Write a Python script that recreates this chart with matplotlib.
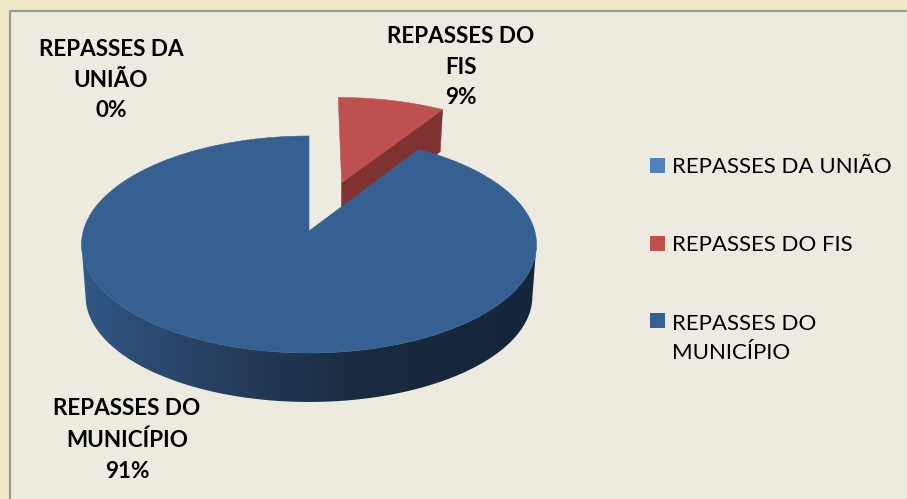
import numpy as np
import matplotlib
matplotlib.use("Agg")
import matplotlib.pyplot as plt
from matplotlib.patches import Polygon, Patch, Rectangle
from matplotlib.colors import LinearSegmentedColormap
from matplotlib.legend_handler import HandlerPatch

# ---- data ----
categories = ["REPASSES DA UNIÃO", "REPASSES DO FIS", "REPASSES DO MUNICÍPIO"]
shares = [0, 9, 91]
slice_explode = [0.0, 0.5, 0.0]

# ---- style ----
top_colors = ["#4F81BD", "#BE5150", "#376092"]
cut_colors = ["#3A5F8C", "#7F3432", "#1F3550"]
legend_colors = ["#4F81BD", "#C0504D", "#376092"]
FONT = "Lato"

fig = plt.figure(figsize=(9.07, 4.99), dpi=100, facecolor="#EFEBC9")
ax = fig.add_axes([0, 0, 1, 1])
ax.axis("off")

# chart panel with its grey top/left rule
ax.add_patch(Rectangle((9.5, 11), 900, 500, facecolor="#EDEBE0", edgecolor="none", zorder=0))
ax.plot([9.5, 9.5, 907], [499, 11, 11], color="#9A9A96", lw=1.6, zorder=1, solid_joinstyle="miter")

# perspective projection of the unit pie disk
CX, CY, RX, RY, K = 309.0, 231.0, 225.7, 106.8, 0.1244
BOTTOM_SCALE = 0.982
WALL_DEPTH, WALL_RY = 52.3, 97.4      # lower rim of the round wall
CUT_DEPTH = 49.0                      # lower edge of the exploded slice's cut face
EXPLODE_SKEW = 1.1
SILHOUETTE = np.degrees(np.arcsin(K))  # disk angle past 90 deg where the outline is widest


def project(u, v):
    w = 1 + K * v
    return np.column_stack((CX + RX * u / w, CY - RY * v / w))


def project_low(u, v, depth, ry):
    w = 1 + K * v
    return np.column_stack((CX + BOTTOM_SCALE * RX * u / w, CY + (depth - ry * v) / w))


grad = LinearSegmentedColormap.from_list(
    "wall",
    [(0.0, "#315887"), (0.15, "#2C4A70"), (0.37, "#243A58"),
     (0.48, "#1F344E"), (0.63, "#182A3E"), (1.0, "#16263A")],
)

# slices, clockwise from twelve o'clock
edges = np.cumsum([0] + shares) / sum(shares) * 2 * np.pi
for i in np.argsort([-e for e in slice_explode]):  # exploded slices sit behind
    if shares[i] == 0:
        continue
    t0, t1 = edges[i], edges[i + 1]
    mid = (t0 + t1) / 2
    ou = slice_explode[i] * np.sin(mid) * EXPLODE_SKEW
    ov = slice_explode[i] * np.cos(mid)
    th = np.linspace(t0, t1, 400)
    u, v = np.sin(th) + ou, np.cos(th) + ov
    arc = project(u, v)
    apex = project(np.array([ou]), np.array([ov]))
    if slice_explode[i] > 0:
        # visible cut face on the clockwise end of the exploded slice
        low_end = project_low(u[-1:], v[-1:], CUT_DEPTH, RY)
        low_apex = project_low(np.array([ou]), np.array([ov]), CUT_DEPTH, RY)
        ax.add_patch(Polygon(np.vstack([apex, arc[-1:], low_end, low_apex]), closed=True,
                             facecolor=cut_colors[i], edgecolor=cut_colors[i], lw=0.4, zorder=3))
        ax.add_patch(Polygon(np.vstack([apex, arc]), closed=True, facecolor=top_colors[i],
                             edgecolor=top_colors[i], lw=0.4, zorder=4))
    else:
        # outer wall with a horizontal shade, between the two widest points
        wall = (th > np.radians(90 + SILHOUETTE)) & (th < np.radians(270 - SILHOUETTE))
        poly = np.vstack([arc[wall], project_low(u[wall], v[wall], WALL_DEPTH, WALL_RY)[::-1]])
        pg = Polygon(poly, closed=True, facecolor="none", edgecolor="none", zorder=5)
        ax.add_patch(pg)
        im = ax.imshow(np.linspace(0, 1, 256)[None, :], cmap=grad, aspect="auto",
                       extent=(81, 537, 420, 200), zorder=5, interpolation="bilinear")
        im.set_clip_path(pg)
        ax.add_patch(Polygon(np.vstack([apex, arc]), closed=True, facecolor=top_colors[i],
                             edgecolor=top_colors[i], lw=0.4, zorder=6))

ax.set_xlim(0, 907)
ax.set_ylim(499, 0)

# data labels
label_lines = [["REPASSES DA", "UNIÃO"], ["REPASSES DO", "FIS"], ["REPASSES DO", "MUNICÍPIO"]]
label_pos = [(111, 80), (461, 67), (127, 440)]
for lines, share, (lx, ly) in zip(label_lines, shares, label_pos):
    ax.text(lx, ly, "\n".join(lines + [f"{share}%"]), ha="center", va="center", ma="center",
            fontsize=16.2, fontweight="bold", family=FONT, color="#000000",
            linespacing=1.58, zorder=8)


# legend
def raised_key(rise):
    def make(legend, orig_handle, xdescent, ydescent, width, height, fontsize):
        return Rectangle((-xdescent, -ydescent + rise), width, height)
    return HandlerPatch(patch_func=make)


legend_labels = ["REPASSES DA UNIÃO", "REPASSES DO FIS", "REPASSES DO\nMUNICÍPIO"]
handles = [Patch(facecolor=c, edgecolor="none") for c in legend_colors]
leg = ax.legend(handles, legend_labels, loc="upper left", bbox_to_anchor=(650 / 907, 1 - 157 / 499),
                frameon=False, prop={"family": FONT, "size": 16.0}, handlelength=0.68, handleheight=0.68,
                handletextpad=0.30, labelspacing=2.63, borderaxespad=0, borderpad=0, labelcolor="#000000",
                handler_map={handles[2]: raised_key(13)})
for t in leg.get_texts():
    t.set_linespacing(1.55)

fig.savefig("out.png", dpi=100, facecolor=fig.get_facecolor())
